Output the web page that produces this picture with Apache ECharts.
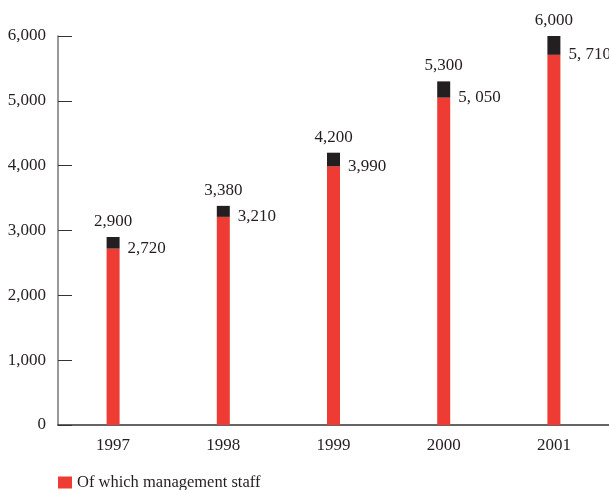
<!DOCTYPE html>
<html>
<head>
<meta charset="utf-8">
<script src="https://cdn.jsdelivr.net/npm/echarts@6/dist/echarts.min.js"></script>
<style>
  html, body { margin: 0; padding: 0; background: #fff; }
  #main { width: 609px; height: 490px; }
</style>
</head>
<body>
<div id="main"></div>
<script>
var years = ['1997', '1998', '1999', '2000', '2001'];
var totals = [2900, 3380, 4200, 5300, 6000];
var management = [2720, 3210, 3990, 5050, 5710];
// labels as printed (note the odd spacing in the last two)
var totalLabels = ['2,900', '3,380', '4,200', '5,300', '6,000'];
var managementLabels = ['2,720', '3,210', '3,990', '5, 050', '5, 710'];

// dark cap = total minus management
var rest = totals.map(function (t, i) { return t - management[i]; });

var font = 'Liberation Serif';
var ink = '#231F20';
var chart = echarts.init(document.getElementById('main'));

var option = {
  animation: false,
  textStyle: { fontFamily: font },
  grid: {
    left: 58, right: 0, top: 36, bottom: 65,
    containLabel: false,
    outerBoundsMode: 'none'
  },
  legend: {
    data: ['Of which management staff'],
    left: 53, top: 469,
    itemWidth: 14, itemHeight: 12,
    icon: 'rect',
    textStyle: { fontFamily: font, fontSize: 16.5, color: ink }
  },
  xAxis: {
    type: 'category',
    data: years,
    axisLine: { lineStyle: { color: '#333', width: 1.5 } },
    axisTick: { show: false },
    axisLabel: { fontFamily: font, fontSize: 17, color: ink, margin: 12 }
  },
  yAxis: {
    type: 'value',
    min: 0, max: 6000, interval: 1000,
    axisLine: { show: true, lineStyle: { color: '#777', width: 1.5 } },
    axisTick: { show: true, inside: true, length: 14, lineStyle: { color: '#333' } },
    splitLine: { show: false },
    axisLabel: {
      fontFamily: font, fontSize: 17, color: ink, margin: 12,
      formatter: function (v) { return v.toLocaleString('en-US'); }
    }
  },
  series: [
    {
      name: 'Of which management staff',
      type: 'bar',
      stack: 'staff',
      barWidth: 13,
      data: management,
      itemStyle: { color: '#EE3B33' },
      label: {
        show: true,
        position: ['100%', 0],
        offset: [8, 0],
        align: 'left',
        verticalAlign: 'middle',
        fontFamily: font, fontSize: 17, color: ink,
        formatter: function (p) { return managementLabels[p.dataIndex]; }
      }
    },
    {
      name: 'Total',
      type: 'bar',
      stack: 'staff',
      barWidth: 13,
      data: rest,
      itemStyle: { color: ink },
      label: {
        show: true,
        position: 'top',
        distance: 7,
        fontFamily: font, fontSize: 17, color: ink,
        formatter: function (p) { return totalLabels[p.dataIndex]; }
      }
    }
  ]
};

chart.setOption(option);
</script>
</body>
</html>
